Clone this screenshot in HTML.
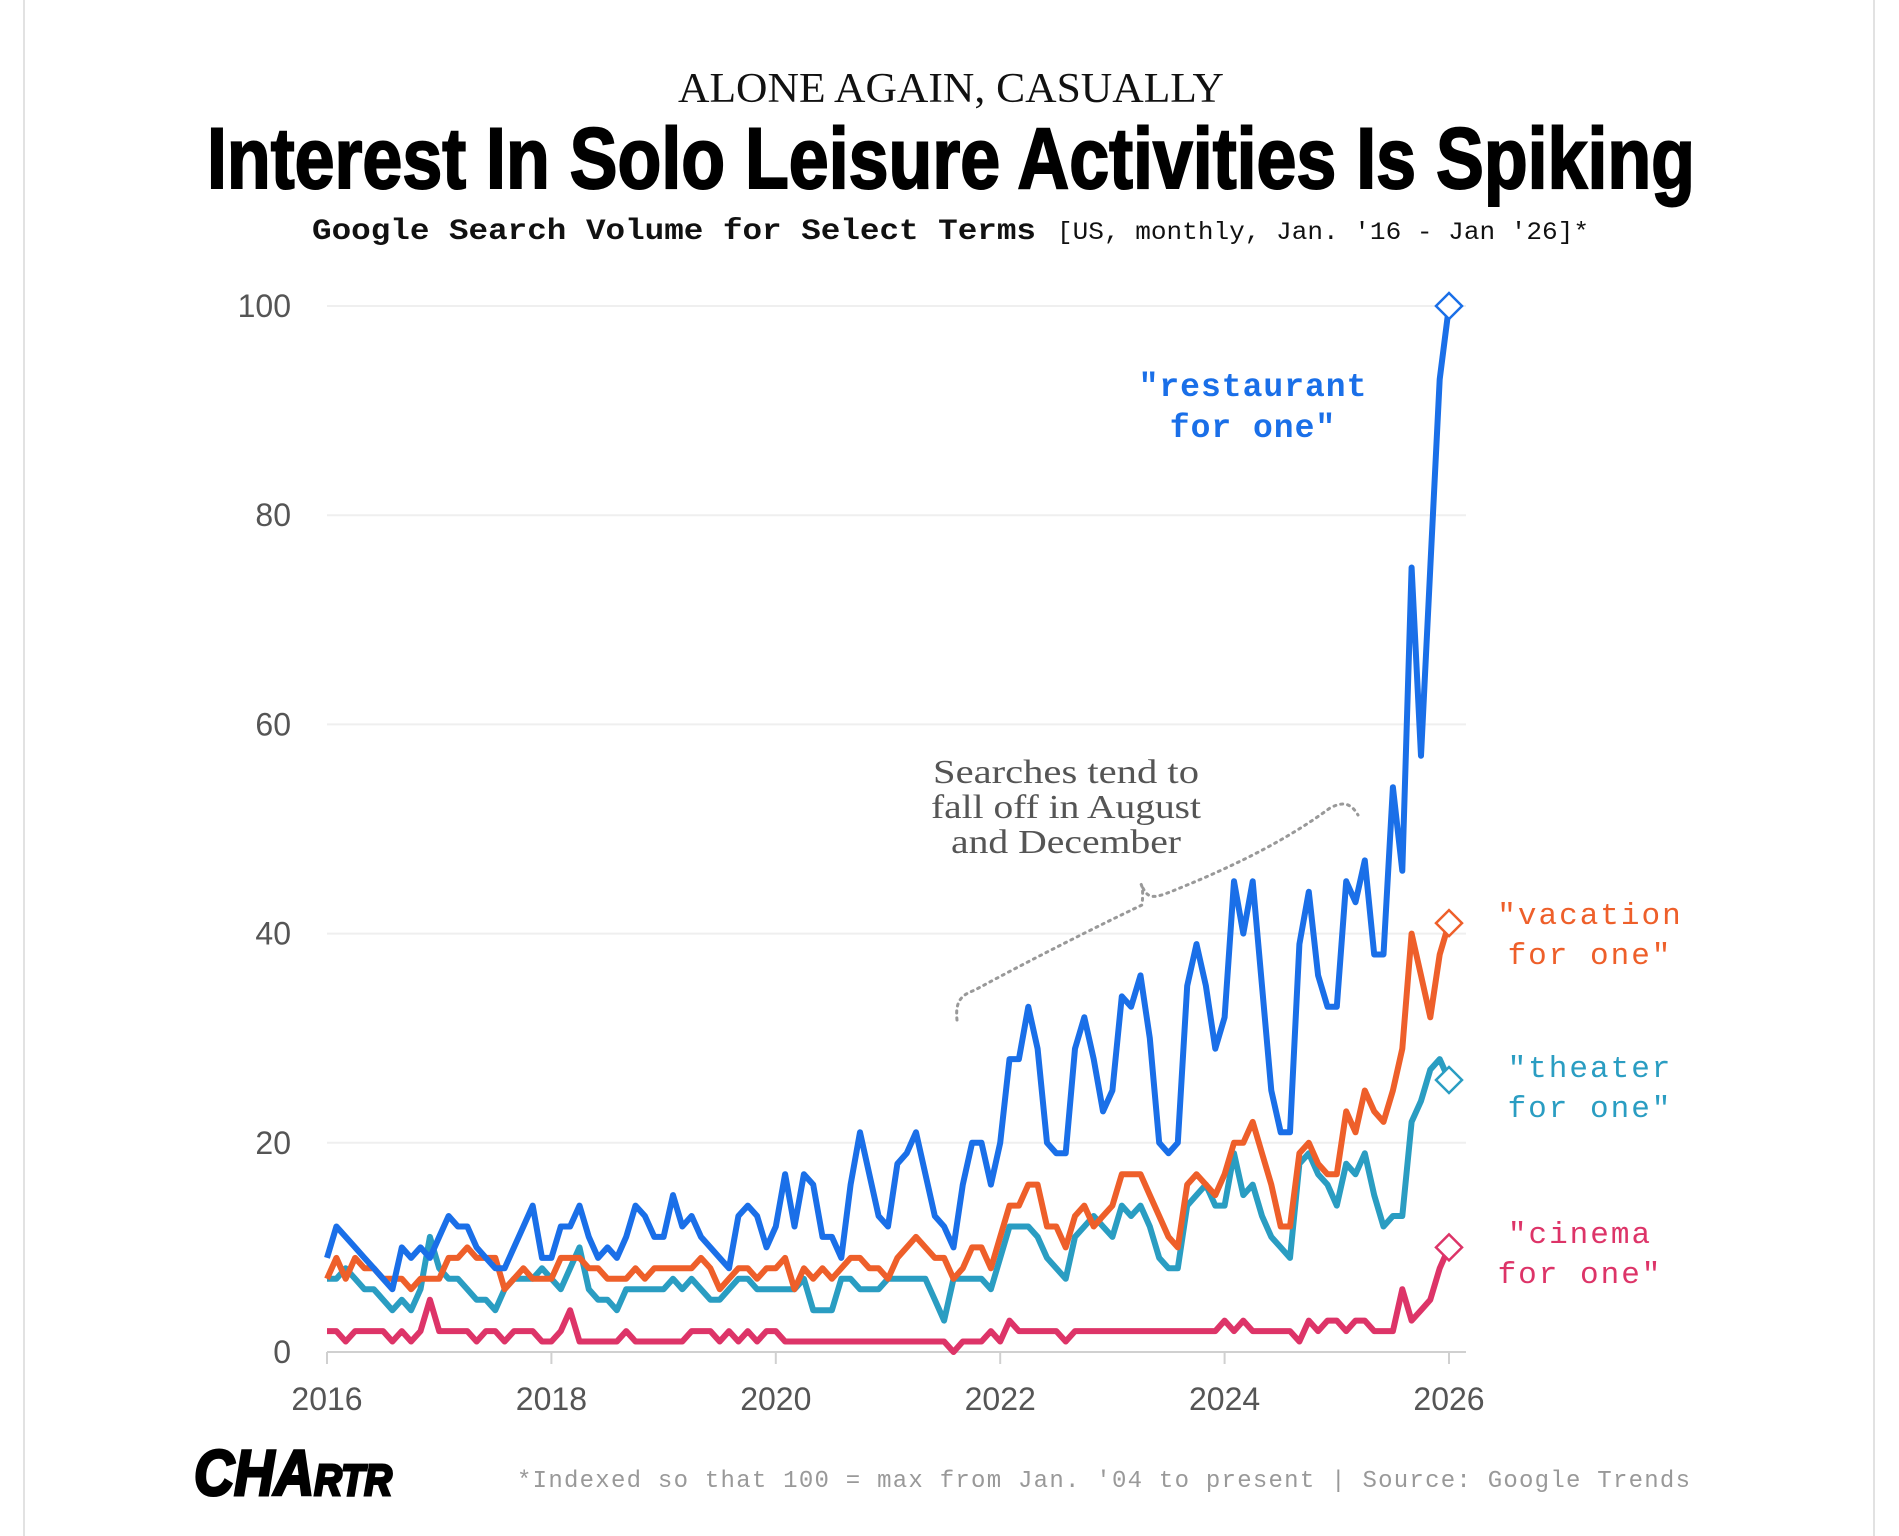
<!DOCTYPE html>
<html><head><meta charset="utf-8"><style>
html,body{margin:0;padding:0;background:#fff;}
svg{display:block;}
</style></head><body>
<svg id="chart" width="1899" height="1536" viewBox="0 0 1899 1536" xmlns="http://www.w3.org/2000/svg">
<rect x="0" y="0" width="1899" height="1536" fill="#fff"/>
<line x1="24" y1="0" x2="24" y2="1536" stroke="#e2e2e2" stroke-width="2"/>
<line x1="1874" y1="0" x2="1874" y2="1536" stroke="#e2e2e2" stroke-width="2"/>
<text x="951" y="102" text-anchor="middle" font-family="Liberation Serif, serif" font-size="42" fill="#111" textLength="546" lengthAdjust="spacingAndGlyphs">ALONE AGAIN, CASUALLY</text>
<text x="951" y="188" text-anchor="middle" font-family="Liberation Sans, sans-serif" font-weight="bold" font-size="86" fill="#000" stroke="#000" stroke-width="2" textLength="1488" lengthAdjust="spacingAndGlyphs">Interest In Solo Leisure Activities Is Spiking</text>
<text x="312" y="239" font-family="Liberation Mono, monospace" font-size="30" fill="#111"><tspan font-weight="bold" textLength="724" lengthAdjust="spacingAndGlyphs">Google Search Volume for Select Terms</tspan><tspan x="1057" font-size="25" textLength="532" lengthAdjust="spacingAndGlyphs">[US, monthly, Jan. '16 - Jan '26]*</tspan></text>
<g id="grid"></g>
<g id="lines"></g>
<text font-family="Liberation Serif, serif" font-size="34" fill="#555" text-anchor="middle"><tspan x="1066" y="783" textLength="266" lengthAdjust="spacingAndGlyphs">Searches tend to</tspan><tspan x="1066" y="818" textLength="270" lengthAdjust="spacingAndGlyphs">fall off in August</tspan><tspan x="1066" y="853" textLength="230" lengthAdjust="spacingAndGlyphs">and December</tspan></text>
<path d="M957,1020 C955,1000 962,995 975,990 C1030,960 1100,925 1142,905 C1143,895 1143,888 1141,884 C1147,897 1150,900 1170,892 C1220,872 1280,845 1330,808 C1345,800 1352,805 1358,815" fill="none" stroke="#999" stroke-width="3" stroke-dasharray="2,5" stroke-linecap="round"/>
<text font-family="Liberation Mono, monospace" font-weight="bold" font-size="33" letter-spacing="1" fill="#1a6fe8" text-anchor="middle"><tspan x="1253" y="396">"restaurant</tspan><tspan x="1253" y="437">for one"</tspan></text>
<text font-family="Liberation Mono, monospace" font-size="31" letter-spacing="2" fill="#ee5f2a" text-anchor="middle"><tspan x="1590" y="924">"vacation</tspan><tspan x="1590" y="964">for one"</tspan></text>
<text font-family="Liberation Mono, monospace" font-size="31" letter-spacing="2" fill="#2a9dc2" text-anchor="middle"><tspan x="1590" y="1077">"theater</tspan><tspan x="1590" y="1117">for one"</tspan></text>
<text font-family="Liberation Mono, monospace" font-size="31" letter-spacing="2" fill="#dd3468" text-anchor="middle"><tspan x="1580" y="1243">"cinema</tspan><tspan x="1580" y="1283">for one"</tspan></text>
<text x="194" y="1495" font-family="Liberation Sans, sans-serif" font-weight="bold" font-size="64" fill="#000" stroke="#000" stroke-width="3" font-style="italic" textLength="198" lengthAdjust="spacingAndGlyphs">CHA<tspan font-size="44">RTR</tspan></text>
<text x="517" y="1487" font-family="Liberation Mono, monospace" font-size="24" fill="#999" textLength="1173" lengthAdjust="spacing">*Indexed so that 100 = max from Jan. '04 to present | Source: Google Trends</text>
</svg>
<script>
const yTicks = [0, 20, 40, 60, 80, 100];
const xTicks = [2016, 2018, 2020, 2022, 2024, 2026];
const restaurant = [9,12,11,10,9,8,7,6,10,9,10,9, 11,13,12,12,10,9,8,8,10,12,14,9, 9,12,12,14,11,9,10,9,11,14,13,11, 11,15,12,13,11,10,9,8,13,14,13,10, 12,17,12,17,16,11,11,9,16,21,17,13, 12,18,19,21,17,13,12,10,16,20,20,16, 20,28,28,33,29,20,19,19,29,32,28,23, 25,34,33,36,30,20,19,20,35,39,35,29, 32,45,40,45,35,25,21,21,39,44,36,33, 33,45,43,47,38,38,54,46,75,57,75,93, 100];
const vacation = [7,9,7,9,8,8,7,7,7,6,7,7, 7,9,9,10,9,9,9,6,7,8,7,7, 7,9,9,9,8,8,7,7,7,8,7,8, 8,8,8,8,9,8,6,7,8,8,7,8, 8,9,6,8,7,8,7,8,9,9,8,8, 7,9,10,11,10,9,9,7,8,10,10,8, 11,14,14,16,16,12,12,10,13,14,12,13, 14,17,17,17,15,13,11,10,16,17,16,15, 17,20,20,22,19,16,12,12,19,20,18,17, 17,23,21,25,23,22,25,29,40,36,32,38, 41];
const theater = [7,7,8,7,6,6,5,4,5,4,6,11, 8,7,7,6,5,5,4,6,7,7,7,8, 7,6,8,10,6,5,5,4,6,6,6,6, 6,7,6,7,6,5,5,6,7,7,6,6, 6,6,6,7,4,4,4,7,7,6,6,6, 7,7,7,7,7,5,3,7,7,7,7,6, 9,12,12,12,11,9,8,7,11,12,13,12, 11,14,13,14,12,9,8,8,14,15,16,14, 14,19,15,16,13,11,10,9,18,19,17,16, 14,18,17,19,15,12,13,13,22,24,27,28, 26];
const cinema = [2,2,1,2,2,2,2,1,2,1,2,5, 2,2,2,2,1,2,2,1,2,2,2,1, 1,2,4,1,1,1,1,1,2,1,1,1, 1,1,1,2,2,2,1,2,1,2,1,2, 2,1,1,1,1,1,1,1,1,1,1,1, 1,1,1,1,1,1,1,0,1,1,1,2, 1,3,2,2,2,2,2,1,2,2,2,2, 2,2,2,2,2,2,2,2,2,2,2,2, 3,2,3,2,2,2,2,2,1,3,2,3, 3,2,3,3,2,2,2,6,3,4,5,8, 10];

const NS = 'http://www.w3.org/2000/svg';
const X0 = 327, X1 = 1449, Y0 = 1352, Y100 = 306;
function xMonth(i){ return X0 + (X1 - X0) * i / 120; }
function xYear(yr){ return X0 + (X1 - X0) * (yr - 2016) / 10; }
function yVal(v){ return Y0 - (Y0 - Y100) * v / 100; }

const grid = document.getElementById('grid');
yTicks.forEach(function(t){
  if (t > 0) {
    const gl = document.createElementNS(NS, 'line');
    
    
    gl.setAttribute('x1', X0); gl.setAttribute('x2', 1466);
    gl.setAttribute('y1', yVal(t)); gl.setAttribute('y2', yVal(t));
    gl.setAttribute('stroke', '#efefef'); gl.setAttribute('stroke-width', '2');
    grid.appendChild(gl);
  }
  const tx = document.createElementNS(NS, 'text');
  
  
  tx.setAttribute('x', 291); tx.setAttribute('y', yVal(t) + 11);
  tx.setAttribute('text-anchor', 'end');
  tx.setAttribute('font-family', 'Liberation Sans, sans-serif');
  tx.setAttribute('font-size', '32'); tx.setAttribute('fill', '#555');
  tx.textContent = t;
  grid.appendChild(tx);
});
const axis = document.createElementNS(NS, 'line');


axis.setAttribute('x1', X0); axis.setAttribute('x2', 1466);
axis.setAttribute('y1', Y0); axis.setAttribute('y2', Y0);
axis.setAttribute('stroke', '#d0d0d0'); axis.setAttribute('stroke-width', '2');
grid.appendChild(axis);
xTicks.forEach(function(yr){
  const tk = document.createElementNS(NS, 'line');
  
  
  tk.setAttribute('x1', xYear(yr)); tk.setAttribute('x2', xYear(yr));
  tk.setAttribute('y1', Y0); tk.setAttribute('y2', Y0 + 12);
  tk.setAttribute('stroke', '#d0d0d0'); tk.setAttribute('stroke-width', '2');
  grid.appendChild(tk);
  const tl = document.createElementNS(NS, 'text');
  
  
  tl.setAttribute('x', xYear(yr)); tl.setAttribute('y', 1410);
  tl.setAttribute('text-anchor', 'middle');
  tl.setAttribute('font-family', 'Liberation Sans, sans-serif');
  tl.setAttribute('font-size', '32'); tl.setAttribute('fill', '#555');
  tl.textContent = yr;
  grid.appendChild(tl);
});

const linesG = document.getElementById('lines');
function drawSeries(vals, color, name){
  const d = vals.map(function(v, i){ return (i ? 'L' : 'M') + xMonth(i).toFixed(1) + ',' + yVal(v).toFixed(1); }).join(' ');
  const p = document.createElementNS(NS, 'path');
  
  
  p.setAttribute('d', d);
  p.setAttribute('fill', 'none'); p.setAttribute('stroke', color);
  p.setAttribute('stroke-width', '6'); p.setAttribute('stroke-linejoin', 'round');
  linesG.appendChild(p);
  const n = vals.length - 1;
  const cx = xMonth(n), cy = yVal(vals[n]), r = 13;
  const dm = document.createElementNS(NS, 'path');
  
  
  dm.setAttribute('d', 'M' + cx + ',' + (cy - r) + ' L' + (cx + r) + ',' + cy + ' L' + cx + ',' + (cy + r) + ' L' + (cx - r) + ',' + cy + ' Z');
  dm.setAttribute('fill', '#fff'); dm.setAttribute('stroke', color); dm.setAttribute('stroke-width', '2.5');
  linesG.appendChild(dm);
}
drawSeries(cinema, '#dd3468', 'cinema');
drawSeries(theater, '#2a9dc2', 'theater');
drawSeries(vacation, '#ee5f2a', 'vacation');
drawSeries(restaurant, '#1a6fe8', 'restaurant');
</script>
</body></html>
